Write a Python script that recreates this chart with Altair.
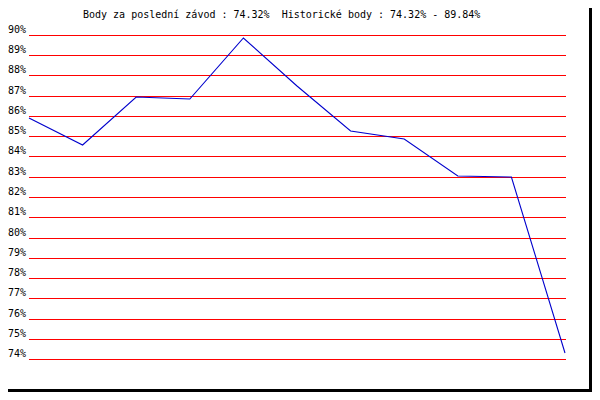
import altair as alt
import pandas as pd

# ---- data ----
races = list(range(11))
scores = [85.89, 84.57, 86.92, 86.84, 89.84, 87.50, 85.26, 84.85, 83.04, 82.97, 74.32]
grid_levels = list(range(74, 91))
grid_labels = [f"{v}%" for v in grid_levels]
title_text = "Body za poslední závod : 74.32% \u00a0Historické body : 74.32% - 89.84%"

FONT = "DejaVu Sans Mono"
W, H = 584, 384

x_scale = alt.Scale(domain=[-0.39179, 10.50373], nice=False, zero=False)
y_scale = alt.Scale(domain=[72.3704, 91.3333], nice=False, zero=False, round=True)

line_df = pd.DataFrame({"race": races, "score": scores})
grid_df = pd.DataFrame({"level": grid_levels, "label": grid_labels,
                        "x0": [0.0] * len(grid_levels), "x1": [10.0187] * len(grid_levels)})
one = pd.DataFrame({"a": [0]})

def box(x, x2, y, y2, color):
    return alt.Chart(one).mark_rect(color=color).encode(
        x=alt.value(x), x2=alt.value(x2), y=alt.value(y), y2=alt.value(y2))

border_r = box(581, 584, 0, 384, "#000000")
border_b = box(0, 584, 381, 384, "#000000")

grid = alt.Chart(grid_df).mark_rule(color="#ff0000", strokeWidth=1, yOffset=0.5).encode(
    x=alt.X("x0:Q", scale=x_scale, axis=None),
    x2="x1:Q",
    y=alt.Y("level:Q", scale=y_scale, axis=None),
)

labels = alt.Chart(grid_df).mark_text(
    align="left", baseline="alphabetic", dy=-2.5, font=FONT, fontSize=10, color="#000000"
).encode(
    x=alt.value(0),
    y=alt.Y("level:Q", scale=y_scale, axis=None),
    text="label:N",
)

line = alt.Chart(line_df).mark_line(color="#0000cc", strokeWidth=1.1).encode(
    x=alt.X("race:Q", scale=x_scale, axis=None),
    y=alt.Y("score:Q", scale=y_scale, axis=None),
)

title = alt.Chart(one).mark_text(
    align="left", baseline="alphabetic", font=FONT, fontSize=10, color="#000000"
).encode(x=alt.value(75), y=alt.value(9.5), text=alt.value(title_text))

chart = alt.layer(border_r, border_b, grid, labels, line, title).properties(
    width=W, height=H, autosize=alt.AutoSizeParams(type="none"), padding=0, background="white"
).configure_view(strokeWidth=0)

chart.save("out.html", embed_options={"renderer": "svg", "actions": False})
